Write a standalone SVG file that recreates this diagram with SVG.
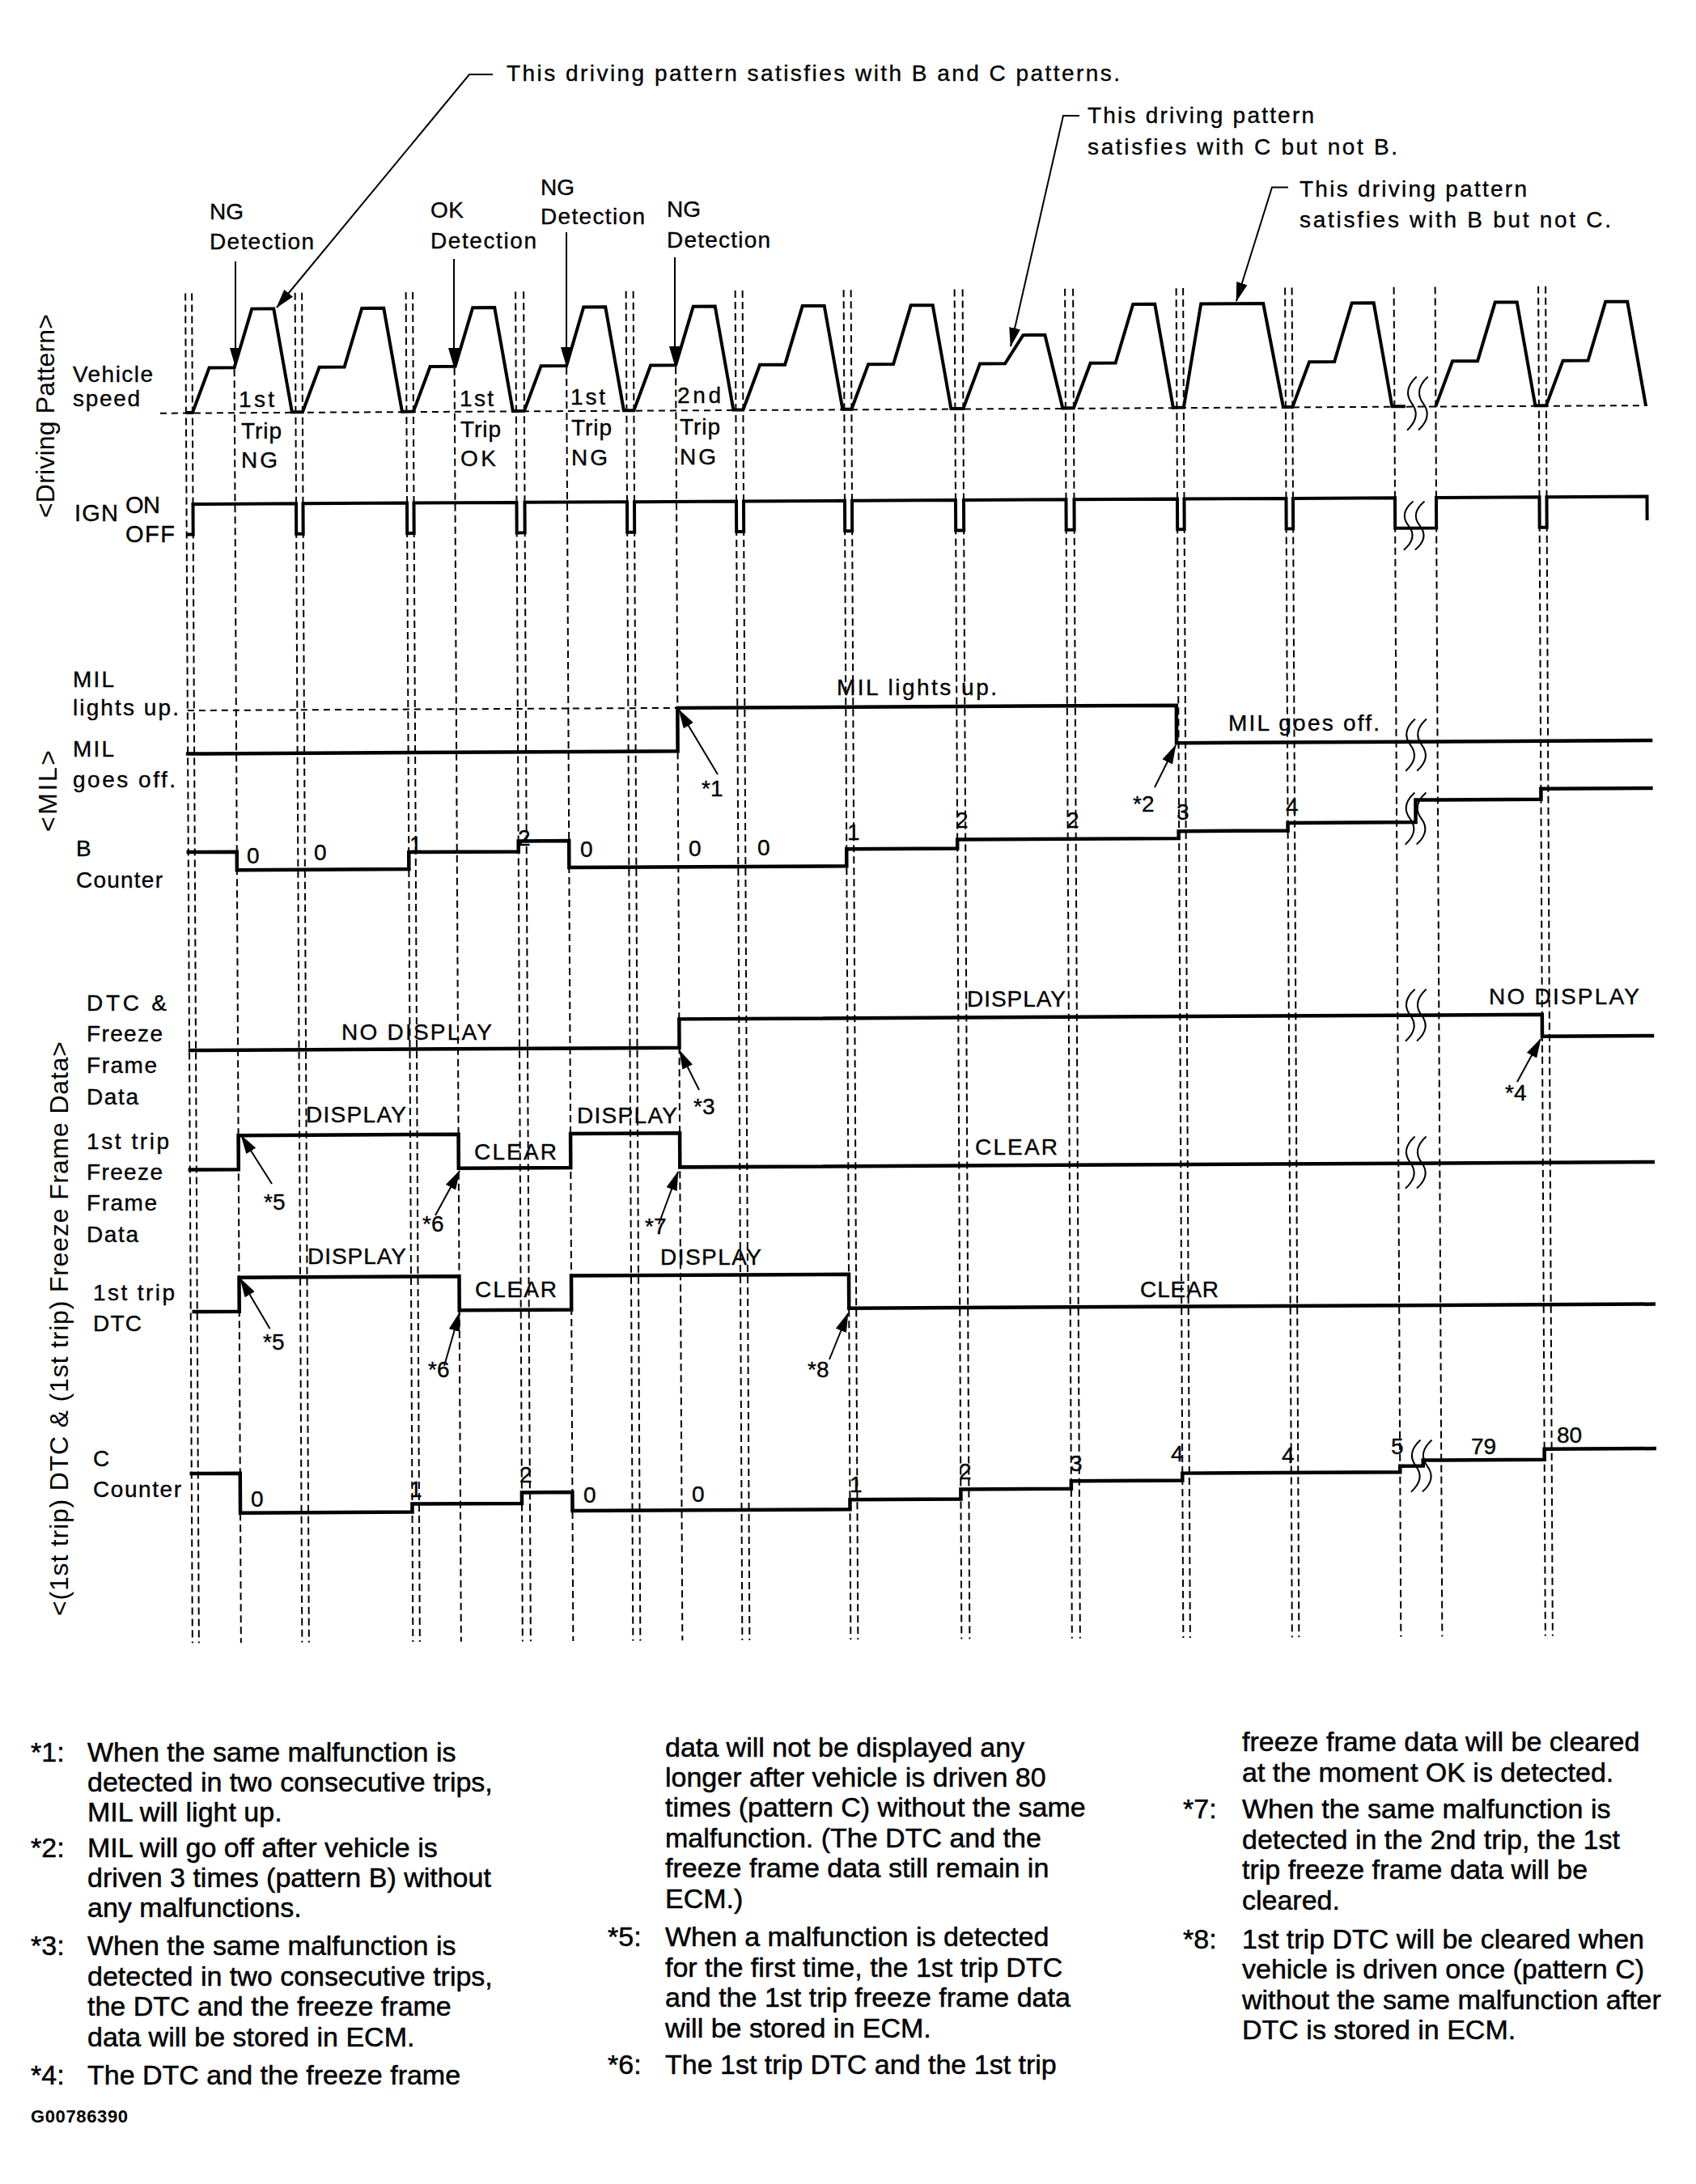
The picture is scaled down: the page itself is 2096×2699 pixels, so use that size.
<svg xmlns="http://www.w3.org/2000/svg" width="2096" height="2699" viewBox="0 0 2096 2699">
<defs>
<style>
text { font-family: "Liberation Sans", Arial, sans-serif; fill: #000; }
.lb { font-size: 28px; stroke: #000; stroke-width: 0.35; }
.dg { font-size: 28px; stroke: #000; stroke-width: 0.35; }
.vt { font-size: 32px; }
.fn { font-size: 34px; stroke: #000; stroke-width: 0.5; }
.id { font-size: 22px; font-weight: bold; }
.w { fill: none; stroke: #000; stroke-width: 4.5; stroke-linejoin: miter; stroke-linecap: square; }
.wt { fill: none; stroke: #000; stroke-width: 4; stroke-linejoin: miter; }
.dv { fill: none; stroke: #000; stroke-width: 2; stroke-dasharray: 9 5; }
.dh { fill: none; stroke: #000; stroke-width: 2; stroke-dasharray: 8 6; }
.ar { fill: none; stroke: #000; stroke-width: 2; marker-end: url(#ah); }
.sq { fill: none; stroke: #000; stroke-width: 2; }
</style>
<marker id="ah" viewBox="0 0 24 14" refX="23" refY="7" markerWidth="24" markerHeight="14" markerUnits="userSpaceOnUse" orient="auto"><path d="M0,0 L24,7 L0,14 z" fill="#000"/></marker>
</defs>
<rect width="2096" height="2699" fill="#fff"/>

<g id="chart" transform="rotate(-0.3 1100 1100)">
  <g id="grid">
    <path class="dv" d="M233,358V2026 M241,358V2026 M368.5,358V2026 M377,358V2026 M505.5,358V2026 M514,358V2026 M641,358V2026 M651,358V2026 M777.5,358V2026 M786.5,358V2026 M912.5,358V2026 M921.5,358V2026 M1046.5,358V2026 M1055.5,358V2026 M1183.5,358V2026 M1193.5,358V2026 M1320,358V2026 M1330,358V2026 M1457.5,358V2026 M1466,358V2026 M1592,358V2026 M1600.5,358V2026 M1726.5,358V2026 M1777.5,358V2026 M1905,358V2026 M1914,358V2026"/>
    <path class="dv" d="M293,452V2026 M565,452V2026 M703.5,452V2026 M838.5,452V2026"/>
  </g>
  <g id="row-vehicle-speed">
    <path class="dh" d="M201,506H2039"/>
    <path class="wt" d="M233,505.5 H241 L262,450 H293 L315,377.5 H342 L364,505.5 H377 L398,450 H429 L451,377.5 H478 L500,505.5 H514 L535,450 H566 L588,377.5 H615 L637,505.5 H651 L672,450 H703.5 L725,377.5 H752 L774,505.5 H786.5 L807.5,450 H838.5 L860.5,377.5 H887.5 L909.5,505.5 H921.5 L942.5,450 H973.5 L995.5,377.5 H1022.5 L1044.5,505.5 H1055.5 L1076.5,450 H1107.5 L1129.5,377.5 H1156.5 L1178.5,505.5 H1193.5 L1214.5,450 H1245.5 L1268,415 H1295 L1316.5,505.5 H1330 L1351,450 H1382 L1404,377.5 H1431 L1453,505.5 H1466 L1488,377.5 H1565 L1589,505.5 H1600.5 L1621.5,450 H1652.5 L1674.5,377.5 H1701.5 L1723.5,505.5 H1740 M1777.5,505.5 L1798.5,450 H1829.5 L1851.5,377.5 H1878.5 L1900.5,505.5 H1914 L1935,450 H1966 L1988,377.5 H2015 L2037,505.5"/>
  </g>
  <g id="row-ign">
    <path class="wt" d="M233,656 H241 V618.5 H368.5 V656 H377 V618.5 H505.5 V656 H514 V618.5 H641 V656 H651 V618.5 H777.5 V656 H786.5 V618.5 H912.5 V656 H921.5 V618.5 H1046.5 V656 H1055.5 V618.5 H1183.5 V656 H1193.5 V618.5 H1320 V656 H1330 V618.5 H1457.5 V656 H1466 V618.5 H1592 V656 H1600.5 V618.5 H1726.5 V656 H1777.5 V618.5 H1905 V656 H1914 V618.5 H2038 V648"/>
  </g>
  <g id="row-mil">
    <path class="dh" d="M233,873.5H838.5"/>
    <path class="w" d="M233,927 H838.5 V873.5 H1455 V920 H2041"/>
  </g>
  <g id="row-b-counter">
    <path class="w" d="M233,1048.5 H293 V1071 H505.5 V1050 H641 V1037 H703.5 V1070 H1046.5 V1049 H1183.5 V1038 H1457 V1029 H1592 V1019.5 H1750 V992 H1905 V979 H2041"/>
  </g>
  <g id="row-dtc-ffd">
    <path class="w" d="M234,1293.5 H838.5 V1258 H1905 V1285 H2041"/>
  </g>
  <g id="row-1st-trip-ffd">
    <path class="w" d="M233,1441 H293 V1399 H565 V1441 H703.5 V1399 H838.5 V1441 H2041"/>
  </g>
  <g id="row-1st-trip-dtc">
    <path class="w" d="M237,1616.5 H293 V1574.5 H565 V1616.5 H703.5 V1574.5 H1046.5 V1616.5 H2041"/>
  </g>
  <g id="row-c-counter">
    <path class="w" d="M233,1816.5 H293 V1865.5 H505.5 V1855.5 H641 V1842 H703.5 V1865 H1046.5 V1853 H1183.5 V1841 H1320 V1831.5 H1457.5 V1822.5 H1726.5 V1815 H1755 V1808 H1905 V1795 H2041"/>
  </g>
  <g id="breaks">
    <path class="sq" d="M1754,469 Q1736,485.5 1748,502 Q1760,518.5 1742,535 M1768,469 Q1750,485.5 1762,502 Q1774,518.5 1756,535"/>
    <path class="sq" d="M1749,623 Q1731,638 1743,653 Q1755,668 1737,683 M1763,623 Q1745,638 1757,653 Q1769,668 1751,683"/>
    <path class="sq" d="M1750,892 Q1732,908 1744,924 Q1756,940 1738,956 M1764,892 Q1746,908 1758,924 Q1770,940 1752,956"/>
    <path class="sq" d="M1749,983 Q1731,999 1743,1015 Q1755,1031 1737,1047 M1763,983 Q1745,999 1757,1015 Q1769,1031 1751,1047"/>
    <path class="sq" d="M1748,1226 Q1730,1242 1742,1258 Q1754,1274 1736,1290 M1762,1226 Q1744,1242 1756,1258 Q1768,1274 1750,1290"/>
    <path class="sq" d="M1747,1408 Q1729,1424 1741,1440 Q1753,1456 1735,1472 M1761,1408 Q1743,1424 1755,1440 Q1767,1456 1749,1472"/>
    <path class="sq" d="M1752,1783 Q1734,1799 1746,1815 Q1758,1831 1740,1847 M1766,1783 Q1748,1799 1760,1815 Q1772,1831 1754,1847"/>
  </g>
</g>

<g id="section-titles">
  <text class="vt" transform="translate(67,640) rotate(-90)" textLength="252">&lt;Driving Pattern&gt;</text>
  <text class="vt" transform="translate(70,1028) rotate(-90)" textLength="101">&lt;MIL&gt;</text>
  <text class="vt" transform="translate(84,1997) rotate(-90)" textLength="710">&lt;(1st trip) DTC &amp; (1st trip) Freeze Frame Data&gt;</text>
</g>

<g id="row-labels">
  <text class="lb" x="90" y="472" textLength="99">Vehicle</text>
  <text class="lb" x="90" y="502" textLength="83">speed</text>
  <text class="lb" x="92" y="644" textLength="54" style="font-size:29px">IGN</text>
  <text class="lb" x="155" y="634" textLength="43" style="font-size:29px">ON</text>
  <text class="lb" x="155" y="670" textLength="61" style="font-size:29px">OFF</text>
  <text class="lb" x="90" y="849" textLength="51">MIL</text>
  <text class="lb" x="90" y="884" textLength="131">lights up.</text>
  <text class="lb" x="90" y="935" textLength="51">MIL</text>
  <text class="lb" x="90" y="973" textLength="127">goes off.</text>
  <text class="lb" x="94" y="1058">B</text>
  <text class="lb" x="94" y="1097" textLength="107">Counter</text>
  <text class="lb" x="107" y="1249" textLength="99">DTC &amp;</text>
  <text class="lb" x="107" y="1287" textLength="94">Freeze</text>
  <text class="lb" x="107" y="1326" textLength="87">Frame</text>
  <text class="lb" x="107" y="1365" textLength="64">Data</text>
  <text class="lb" x="107" y="1420" textLength="102">1st trip</text>
  <text class="lb" x="107" y="1458" textLength="94">Freeze</text>
  <text class="lb" x="107" y="1496" textLength="87">Frame</text>
  <text class="lb" x="107" y="1535" textLength="64">Data</text>
  <text class="lb" x="115" y="1607" textLength="101">1st trip</text>
  <text class="lb" x="115" y="1645" textLength="60">DTC</text>
  <text class="lb" x="115" y="1812">C</text>
  <text class="lb" x="115" y="1850" textLength="109">Counter</text>
</g>

<g id="event-labels">
  <text class="lb" x="626" y="100" textLength="758">This driving pattern satisfies with B and C patterns.</text>
  <text class="lb" x="1344" y="152" textLength="280">This driving pattern</text>
  <text class="lb" x="1344" y="191" textLength="383">satisfies with C but not B.</text>
  <text class="lb" x="1606" y="243" textLength="281">This driving pattern</text>
  <text class="lb" x="1606" y="281" textLength="385">satisfies with B but not C.</text>
  <text class="lb" x="259" y="271" textLength="42">NG</text>
  <text class="lb" x="259" y="308" textLength="129">Detection</text>
  <text class="lb" x="532" y="269" textLength="41">OK</text>
  <text class="lb" x="532" y="307" textLength="131">Detection</text>
  <text class="lb" x="668" y="241" textLength="42">NG</text>
  <text class="lb" x="668" y="277" textLength="129">Detection</text>
  <text class="lb" x="824" y="268" textLength="42">NG</text>
  <text class="lb" x="824" y="306" textLength="128">Detection</text>
  <text class="lb" x="295" y="503" textLength="44">1st</text>
  <text class="lb" x="298" y="542" textLength="50">Trip</text>
  <text class="lb" x="298" y="578" textLength="45">NG</text>
  <text class="lb" x="568" y="502" textLength="42">1st</text>
  <text class="lb" x="569" y="540" textLength="50">Trip</text>
  <text class="lb" x="569" y="576" textLength="44">OK</text>
  <text class="lb" x="705" y="500" textLength="43">1st</text>
  <text class="lb" x="706" y="538" textLength="50">Trip</text>
  <text class="lb" x="706" y="575" textLength="45">NG</text>
  <text class="lb" x="837" y="498" textLength="54">2nd</text>
  <text class="lb" x="840" y="537" textLength="50">Trip</text>
  <text class="lb" x="840" y="574" textLength="45">NG</text>
  <text class="lb" x="1034" y="859" textLength="198">MIL lights up.</text>
  <text class="lb" x="1518" y="903" textLength="187">MIL goes off.</text>
  <text class="lb" x="422" y="1285" textLength="186">NO DISPLAY</text>
  <text class="lb" x="1195" y="1244" textLength="122">DISPLAY</text>
  <text class="lb" x="1840" y="1241" textLength="186">NO DISPLAY</text>
  <text class="lb" x="378" y="1387" textLength="124">DISPLAY</text>
  <text class="lb" x="586" y="1433" textLength="102">CLEAR</text>
  <text class="lb" x="713" y="1388" textLength="124">DISPLAY</text>
  <text class="lb" x="1205" y="1427" textLength="102">CLEAR</text>
  <text class="lb" x="380" y="1562" textLength="122">DISPLAY</text>
  <text class="lb" x="587" y="1603" textLength="101">CLEAR</text>
  <text class="lb" x="816" y="1563" textLength="125">DISPLAY</text>
  <text class="lb" x="1409" y="1603" textLength="97">CLEAR</text>
  <text class="lb" x="867" y="984">*1</text>
  <text class="lb" x="1400" y="1003">*2</text>
  <text class="lb" x="857" y="1377">*3</text>
  <text class="lb" x="1860" y="1360">*4</text>
  <text class="lb" x="326" y="1495">*5</text>
  <text class="lb" x="522" y="1522">*6</text>
  <text class="lb" x="797" y="1525">*7</text>
  <text class="lb" x="325" y="1668">*5</text>
  <text class="lb" x="529" y="1702">*6</text>
  <text class="lb" x="998" y="1702">*8</text>
</g>

<g id="counter-values">
  <text class="dg" x="305" y="1067">0</text>
  <text class="dg" x="388" y="1063">0</text>
  <text class="dg" x="506" y="1053">1</text>
  <text class="dg" x="640" y="1045">2</text>
  <text class="dg" x="717" y="1059">0</text>
  <text class="dg" x="851" y="1058">0</text>
  <text class="dg" x="936" y="1057">0</text>
  <text class="dg" x="1047" y="1038">1</text>
  <text class="dg" x="1181" y="1023">2</text>
  <text class="dg" x="1318" y="1023">2</text>
  <text class="dg" x="1454" y="1013">3</text>
  <text class="dg" x="1589" y="1006">4</text>
  <text class="dg" x="310" y="1862">0</text>
  <text class="dg" x="506" y="1850">1</text>
  <text class="dg" x="642" y="1832">2</text>
  <text class="dg" x="721" y="1857">0</text>
  <text class="dg" x="855" y="1856">0</text>
  <text class="dg" x="1050" y="1844">1</text>
  <text class="dg" x="1185" y="1828">2</text>
  <text class="dg" x="1322" y="1818">3</text>
  <text class="dg" x="1447" y="1806">4</text>
  <text class="dg" x="1584" y="1808">4</text>
  <text class="dg" x="1719" y="1797">5</text>
  <text class="dg" x="1818" y="1797">79</text>
  <text class="dg" x="1924" y="1783">80</text>
</g>

<g id="connectors">
  <path class="ar" d="M291,323 L291,453"/>
  <path class="ar" d="M561,320 L561,453"/>
  <path class="ar" d="M700,287 L700,452"/>
  <path class="ar" d="M834,318 L834,451"/>
  <path class="ar" d="M609,92 L580,92 L342,380"/>
  <path class="ar" d="M1334,143 L1314,143 L1249,428"/>
  <path class="ar" d="M1592,231.5 L1572,231.5 L1528,372"/>
  <path class="ar" d="M887,957 L839,877"/>
  <path class="ar" d="M1427,973 L1453,921"/>
  <path class="ar" d="M864,1347 L839.5,1298"/>
  <path class="ar" d="M1875,1337 L1904,1284"/>
  <path class="ar" d="M336,1463 L298,1403"/>
  <path class="ar" d="M538,1502 L568,1447"/>
  <path class="ar" d="M814,1513 L838,1448"/>
  <path class="ar" d="M333.5,1642 L297,1580"/>
  <path class="ar" d="M549,1688 L568,1622"/>
  <path class="ar" d="M1025,1680 L1048,1623"/>
</g>

<g id="notes">
  <text class="fn" x="38" y="2177">*1:</text>
  <text class="fn"><tspan x="108" y="2177">When the same malfunction is</tspan><tspan x="108" y="2214">detected in two consecutive trips,</tspan><tspan x="108" y="2251">MIL will light up.</tspan></text>
  <text class="fn" x="38" y="2295">*2:</text>
  <text class="fn"><tspan x="108" y="2295">MIL will go off after vehicle is</tspan><tspan x="108" y="2332">driven 3 times (pattern B) without</tspan><tspan x="108" y="2369">any malfunctions.</tspan></text>
  <text class="fn" x="38" y="2416">*3:</text>
  <text class="fn"><tspan x="108" y="2416">When the same malfunction is</tspan><tspan x="108" y="2454">detected in two consecutive trips,</tspan><tspan x="108" y="2491">the DTC and the freeze frame</tspan><tspan x="108" y="2529">data will be stored in ECM.</tspan></text>
  <text class="fn" x="38" y="2576">*4:</text>
  <text class="fn" x="108" y="2576">The DTC and the freeze frame</text>
  <text class="fn"><tspan x="822" y="2171">data will not be displayed any</tspan><tspan x="822" y="2208">longer after vehicle is driven 80</tspan><tspan x="822" y="2245">times (pattern C) without the same</tspan><tspan x="822" y="2283">malfunction. (The DTC and the</tspan><tspan x="822" y="2320">freeze frame data still remain in</tspan><tspan x="822" y="2358">ECM.)</tspan></text>
  <text class="fn" x="751" y="2405">*5:</text>
  <text class="fn"><tspan x="822" y="2405">When a malfunction is detected</tspan><tspan x="822" y="2443">for the first time, the 1st trip DTC</tspan><tspan x="822" y="2480">and the 1st trip freeze frame data</tspan><tspan x="822" y="2518">will be stored in ECM.</tspan></text>
  <text class="fn" x="751" y="2563">*6:</text>
  <text class="fn" x="822" y="2563">The 1st trip DTC and the 1st trip</text>
  <text class="fn"><tspan x="1535" y="2164">freeze frame data will be cleared</tspan><tspan x="1535" y="2202">at the moment OK is detected.</tspan></text>
  <text class="fn" x="1462" y="2247">*7:</text>
  <text class="fn"><tspan x="1535" y="2247">When the same malfunction is</tspan><tspan x="1535" y="2285">detected in the 2nd trip, the 1st</tspan><tspan x="1535" y="2322">trip freeze frame data will be</tspan><tspan x="1535" y="2360">cleared.</tspan></text>
  <text class="fn" x="1462" y="2408">*8:</text>
  <text class="fn"><tspan x="1535" y="2408">1st trip DTC will be cleared when</tspan><tspan x="1535" y="2445">vehicle is driven once (pattern C)</tspan><tspan x="1535" y="2483">without the same malfunction after</tspan><tspan x="1535" y="2520">DTC is stored in ECM.</tspan></text>
  <text class="id" x="38" y="2623" textLength="120">G00786390</text>
</g>
</svg>
